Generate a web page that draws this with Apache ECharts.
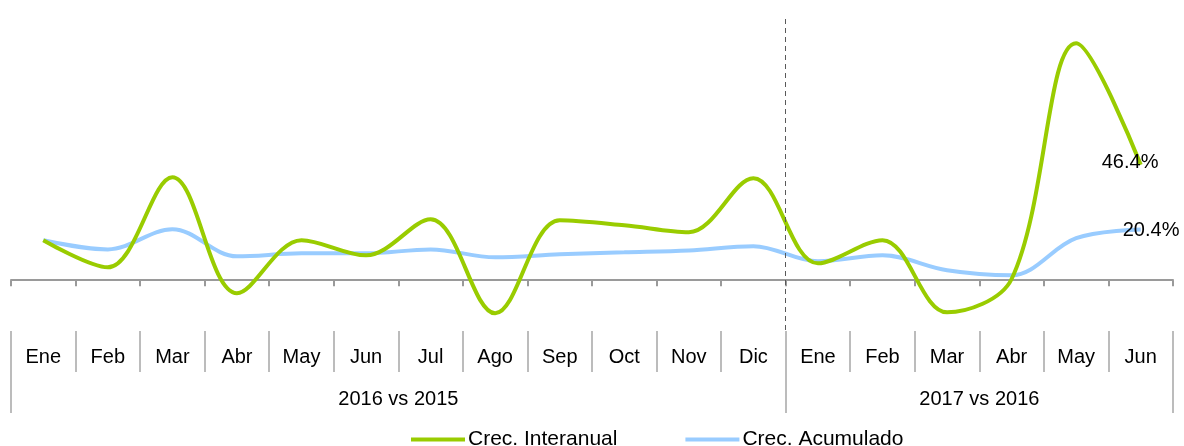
<!DOCTYPE html>
<html>
<head>
<meta charset="utf-8">
<script src="https://cdn.jsdelivr.net/npm/echarts@6/dist/echarts.min.js"></script>
<style>
  html, body { margin: 0; padding: 0; background: #fff; }
  #chart { width: 1184px; height: 446px; }
</style>
</head>
<body>
<div id="chart"></div>
<script>
// months and the two comparison periods
const months = ['Ene','Feb','Mar','Abr','May','Jun','Jul','Ago','Sep','Oct','Nov','Dic',
                'Ene','Feb','Mar','Abr','May','Jun'];
const groupLabels = ['2016 vs 2015', '2017 vs 2016'];

// values in %
const interanual = [16.1, 5.2, 41.4, -5.2, 16.1, 10.0, 24.5, -13.3, 24.1, 22.1, 19.3, 41.0,
                    6.8, 16.1, -12.9, 0.5, 95.2, 46.4];
const acumulado = [16.1, 12.4, 20.5, 9.6, 10.8, 10.8, 12.4, 9.2, 10.4, 11.2, 12.0, 13.7,
                   7.6, 10.0, 4.0, 2.0, 16.9, 20.4];

const FONT = 'Liberation Sans';
const GREEN = '#99cc00';
const BLUE = '#99ccff';
const TABLE = '#a6a6a6';

function endLabel(offset) {
  return { show: true, formatter: p => p.value + '%', offset: offset,
           fontFamily: FONT, fontSize: 20, color: '#000' };
}

const chart = echarts.init(document.getElementById('chart'));

const option = {
  animation: false,
  textStyle: { fontFamily: FONT },
  grid: [
    { left: 11, right: 11, top: 17, bottom: 116 },   // lines
    { left: 11, right: 11, top: 331, height: 41 },   // month row
    { left: 11, right: 11, top: 372, height: 41 }    // period row
  ],
  xAxis: [
    {
      gridIndex: 0, type: 'category', data: months, boundaryGap: true,
      axisLine: { onZero: true, lineStyle: { color: '#9a9a9a', width: 2 } },
      axisTick: { show: true, interval: 0, length: 6, lineStyle: { color: '#9a9a9a', width: 2 } },
      axisLabel: { show: false }
    },
    {
      gridIndex: 1, type: 'category', data: months, boundaryGap: true,
      axisLine: { show: false },
      axisTick: { show: true, interval: 0, inside: true, length: 41, lineStyle: { color: TABLE, width: 1.5 } },
      axisLabel: { interval: 0, margin: -25, fontSize: 20, color: '#000', fontFamily: FONT }
    },
    {
      gridIndex: 2, type: 'value', min: 0, max: 18,
      axisLine: { show: false },
      splitLine: { show: false },
      axisTick: { show: true, inside: true, length: 41, customValues: [0, 12, 18],
                  lineStyle: { color: TABLE, width: 1.5 } },
      axisLabel: { customValues: [6, 15], margin: -24, fontSize: 20, color: '#000', fontFamily: FONT,
                   formatter: v => v === 6 ? groupLabels[0] : groupLabels[1] }
    },
    { gridIndex: 0, type: 'value', min: 0, max: 18, show: false }
  ],
  yAxis: [
    { gridIndex: 0, type: 'value', min: -20, max: 105.8, show: false },
    { gridIndex: 1, type: 'value', show: false },
    { gridIndex: 2, type: 'value', show: false }
  ],
  legend: {
    data: ['Crec. Interanual', 'Crec. Acumulado'],
    left: 406, top: 424, itemWidth: 54, itemHeight: 4, itemGap: 68, icon: 'rect',
    textStyle: { fontSize: 21, color: '#000', fontFamily: FONT, padding: [0, 0, 0, -2] }
  },
  series: [
    {
      name: 'Crec. Acumulado', type: 'line', xAxisIndex: 0, yAxisIndex: 0,
      data: acumulado, smooth: 0.35, showSymbol: false, symbol: 'none',
      lineStyle: { color: BLUE, width: 4 }, itemStyle: { color: BLUE },
      endLabel: endLabel([-26, 1]), z: 2
    },
    {
      name: 'Crec. Interanual', type: 'line', xAxisIndex: 0, yAxisIndex: 0,
      data: interanual, smooth: 0.35, showSymbol: false, symbol: 'none',
      lineStyle: { color: GREEN, width: 4 }, itemStyle: { color: GREEN },
      endLabel: endLabel([-47, -2]), z: 3
    },
    {
      // dashed divider between the two periods
      type: 'line', xAxisIndex: 3, yAxisIndex: 0, data: [], silent: true,
      markLine: {
        silent: true, symbol: 'none', label: { show: false },
        lineStyle: { color: '#595959', width: 1, type: [5, 4] },
        data: [{ xAxis: 12 }]
      }
    }
  ]
};

chart.setOption(option);
</script>
</body>
</html>
